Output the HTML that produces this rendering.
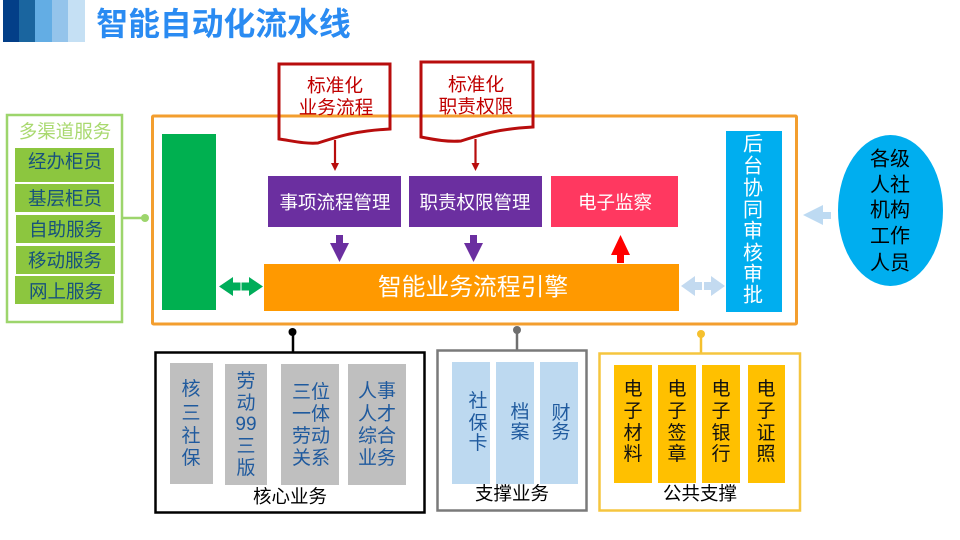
<!DOCTYPE html>
<html lang="zh"><head><meta charset="utf-8"><title>智能自动化流水线</title>
<style>
html,body{margin:0;padding:0;background:#fff;width:960px;height:540px;overflow:hidden}
svg{display:block;filter:blur(.35px)}
text{font-family:"Liberation Sans","Noto Sans CJK SC",sans-serif;text-anchor:middle;dominant-baseline:central;transform:translateY(1.5px)}
text.t{transform:none}
</style></head><body>
<svg width="960" height="540" viewBox="0 0 960 540" xmlns="http://www.w3.org/2000/svg">
<!-- header -->
<rect x="3" y="0" width="16" height="42" fill="#033f88"/>
<rect x="19" y="0" width="16" height="42" fill="#1a659f"/>
<rect x="35" y="0" width="17" height="42" fill="#63ade4"/>
<rect x="52" y="0" width="16" height="42" fill="#94c4eb"/>
<rect x="68" y="0" width="17" height="42" fill="#c5e0f4"/>
<text class="t" x="223.500" y="24" font-size="31.800" font-weight="700" fill="#2a8bf2">智能自动化流水线</text>

<!-- left box -->
<rect x="7" y="115" width="115" height="207" fill="#fff" stroke="#9dd56c" stroke-width="2.500"/>
<text x="65" y="130" font-size="18.500" fill="#a9d96f">多渠道服务</text>
<g fill="#8cc63f">
<rect x="15" y="148" width="99" height="34"/>
<rect x="15" y="184" width="99" height="28"/>
<rect x="16" y="215" width="99" height="28"/>
<rect x="16" y="246" width="99" height="28"/>
<rect x="15" y="276" width="99" height="28"/>
</g>
<g font-size="18.500" fill="#17527c">
<text x="65" y="160">经办柜员</text>
<text x="65" y="197">基层柜员</text>
<text x="66" y="228">自助服务</text>
<text x="65" y="259">移动服务</text>
<text x="66" y="290">网上服务</text>
</g>
<line x1="122" y1="218" x2="145" y2="218" stroke="#9dd56c" stroke-width="2.500"/>
<circle cx="145" cy="218" r="4" fill="#9dd56c"/>

<!-- main box -->
<rect x="152.500" y="116" width="644" height="208" rx="1" fill="none" stroke="#f39e2e" stroke-width="3"/>
<rect x="162" y="134" width="54" height="176" fill="#00b050"/>
<rect x="264" y="264" width="415" height="47" fill="#ff9900"/>
<text x="473" y="286" font-size="23.800" fill="#fff">智能业务流程引擎</text>
<rect x="268" y="176" width="133" height="51" fill="#6b2fa0"/>
<rect x="409" y="176" width="133" height="51" fill="#6b2fa0"/>
<rect x="551" y="176" width="127" height="51" fill="#ff3860"/>
<g font-size="18.500" fill="#fff">
<text x="335" y="201">事项流程管理</text>
<text x="475" y="201">职责权限管理</text>
<text x="615" y="201">电子监察</text>
</g>
<rect x="726" y="131" width="56" height="181" fill="#00aeef"/>
<g font-size="20" fill="#fff">
<text x="753" y="143">后</text><text x="753" y="165">台</text><text x="753" y="187">协</text><text x="753" y="209">同</text><text x="753" y="230">审</text><text x="753" y="252">核</text><text x="753" y="273">审</text><text x="753" y="294">批</text>
</g>

<!-- documents -->
<path d="M279 64H390V129C355 131 340 136 318 143C305 144 293 141 279 139Z" fill="none" stroke="#b80d0d" stroke-width="3"/>
<path d="M421 62H533V127C498 129 483 134 461 141C448 142 436 140 421 137Z" fill="none" stroke="#b80d0d" stroke-width="3"/>
<g font-size="18.700" fill="#c00000">
<text x="335" y="84">标准化</text><text x="336" y="106">业务流程</text>
<text x="476" y="83">标准化</text><text x="476" y="105">职责权限</text>
</g>
<g stroke="#b80d0d" stroke-width="2.200">
<line x1="335" y1="140" x2="335" y2="166"/><line x1="475.500" y1="139" x2="475.500" y2="166"/>
</g>
<path d="M331 163H339L335 171Z M471.500 163H479.500L475.500 171Z" fill="#b80d0d"/>

<!-- block arrows -->
<path d="M336 235H343V243H349L339.500 262L330 243H336Z" fill="#6b2fa0"/>
<path d="M470 235H477V243H483L473.500 262L464 243H470Z" fill="#6b2fa0"/>
<path d="M620.500 235L630 255H624V263H617V255H611Z" fill="#ff0000"/>
<path d="M219 286.500L233 277V282.500H249V277L263 286.500L249 296V290.500H233V296Z" fill="#00ad5a"/>
<rect x="240" y="282.500" width="2" height="8" fill="#7fd6ac"/>
<path d="M681 286L695 276V282H711V276L725 286L711 296V290H695V296Z" fill="#c3daf0"/>
<rect x="702" y="282" width="2" height="8" fill="#fff"/>
<path d="M803 215L823 205V212H831V219H823V225Z" fill="#bddaf2"/>

<!-- ellipse -->
<ellipse cx="890.500" cy="210.500" rx="52.500" ry="75.500" fill="#00aeef"/>
<g font-size="20" fill="#000">
<text x="890" y="158">各级</text><text x="890" y="184">人社</text><text x="890" y="209">机构</text><text x="890" y="235">工作</text><text x="890" y="262">人员</text>
</g>

<!-- core -->
<line x1="293" y1="332" x2="293" y2="352" stroke="#000" stroke-width="2.500"/>
<circle cx="292.500" cy="332" r="4" fill="#000"/>
<rect x="155.500" y="352.500" width="269" height="160" fill="#fff" stroke="#000" stroke-width="2.500"/>
<g fill="#bfbfbf">
<rect x="170" y="363" width="43" height="121"/>
<rect x="225" y="364" width="42" height="121"/>
<rect x="281" y="364" width="58" height="121"/>
<rect x="348" y="364" width="58" height="121"/>
</g>
<g font-size="19" fill="#1f5a9e">
<text x="191" y="388">核</text><text x="191" y="412">三</text><text x="191" y="435">社</text><text x="191" y="457">保</text>
<text x="246" y="380">劳</text><text x="246" y="402">动</text><text x="246" y="423">99</text><text x="246" y="445">三</text><text x="246" y="467">版</text>
<text x="311" y="391">三位</text><text x="311" y="413">一体</text><text x="311" y="435">劳动</text><text x="311" y="457">关系</text>
<text x="377" y="390">人事</text><text x="377" y="413">人才</text><text x="377" y="435">综合</text><text x="377" y="457">业务</text>
</g>
<text x="290" y="495" font-size="18.500" fill="#000">核心业务</text>

<!-- support -->
<line x1="517" y1="330" x2="517" y2="350" stroke="#6f6f6f" stroke-width="2.500"/>
<circle cx="517" cy="330" r="4" fill="#6f6f6f"/>
<rect x="437.500" y="350.500" width="149" height="160" fill="#fff" stroke="#7a7a7a" stroke-width="2.500"/>
<g fill="#bdd9f0">
<rect x="452" y="362" width="38" height="122"/>
<rect x="496" y="362" width="38" height="122"/>
<rect x="540" y="362" width="38" height="122"/>
</g>
<g font-size="19" fill="#1f5a9e">
<text x="478" y="400">社</text><text x="478" y="422">保</text><text x="478" y="442">卡</text>
<text x="520" y="411">档</text><text x="520" y="431">案</text>
<text x="561" y="412">财</text><text x="561" y="431">务</text>
</g>
<text x="512" y="492" font-size="18.500" fill="#000">支撑业务</text>

<!-- public -->
<line x1="701" y1="334" x2="701" y2="353" stroke="#f5c02e" stroke-width="2.500"/>
<circle cx="701" cy="334" r="4" fill="#f5c02e"/>
<rect x="599.500" y="353.500" width="200.500" height="157" fill="#fff" stroke="#f5c53f" stroke-width="2.500"/>
<g fill="#ffc000">
<rect x="614" y="365" width="38" height="118"/>
<rect x="658" y="365" width="38" height="118"/>
<rect x="702" y="365" width="38" height="118"/>
<rect x="748" y="365" width="37" height="118"/>
</g>
<g font-size="19" fill="#111">
<text x="633" y="388">电</text><text x="633" y="410">子</text><text x="633" y="432">材</text><text x="633" y="453">料</text>
<text x="677" y="388">电</text><text x="677" y="410">子</text><text x="677" y="432">签</text><text x="677" y="453">章</text>
<text x="721" y="388">电</text><text x="721" y="410">子</text><text x="721" y="432">银</text><text x="721" y="453">行</text>
<text x="766" y="388">电</text><text x="766" y="410">子</text><text x="766" y="432">证</text><text x="766" y="453">照</text>
</g>
<text x="700" y="492" font-size="18.500" fill="#000">公共支撑</text>
</svg>
</body></html>
